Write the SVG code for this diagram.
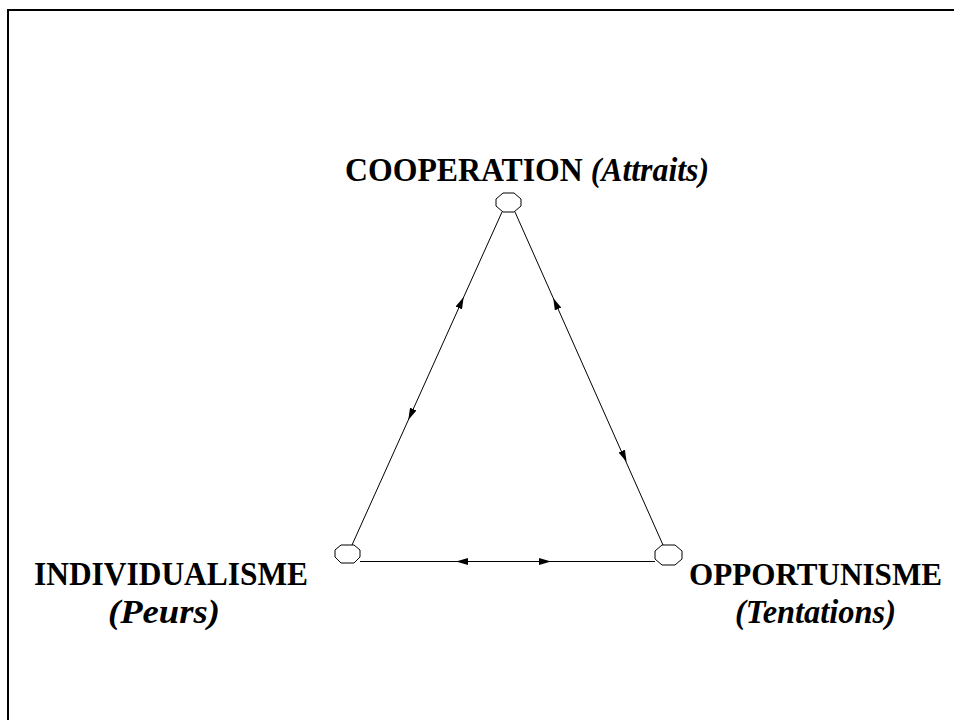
<svg xmlns="http://www.w3.org/2000/svg" width="954" height="720" viewBox="0 0 954 720">
<defs>
<style>
.lbl{font-family:"Liberation Serif","Times New Roman",serif;font-weight:bold;font-size:33px;fill:#000}
.it{font-style:italic}
.sm{font-size:31px}
.node{fill:#fff;stroke:#000;stroke-width:1}
.ln{stroke:#000;stroke-width:1;fill:none}
.ar{stroke:none;fill:none}
</style>
<marker id="ah" viewBox="0 0 12 7" refX="12" refY="3.5" markerWidth="12" markerHeight="7" markerUnits="userSpaceOnUse" orient="auto">
<path d="M0,0 L12,3.5 L0,7 z" fill="#000"/>
</marker>
</defs>
<rect x="8" y="10" width="960" height="720" fill="none" stroke="#000" stroke-width="2"/>
<g id="connectors">
<line class="ln" x1="502" y1="212" x2="352" y2="545"/>
<line class="ln" x1="515" y1="212" x2="663" y2="545"/>
<line class="ln" x1="360" y1="561.5" x2="655" y2="561.5"/>
<line class="ln" x1="458" y1="561.5" x2="550" y2="561.5" stroke-width="1.8"/>
<line class="ar" x1="454.7" y1="317" x2="463.7" y2="297" marker-end="url(#ah)"/>
<line class="ar" x1="417.3" y1="400" x2="408.3" y2="420" marker-end="url(#ah)"/>
<line class="ar" x1="562.1" y1="318" x2="553.2" y2="298" marker-end="url(#ah)"/>
<line class="ar" x1="617.7" y1="442" x2="626.6" y2="462" marker-end="url(#ah)"/>
<line class="ar" x1="480" y1="561.5" x2="456" y2="561.5" marker-end="url(#ah)"/>
<line class="ar" x1="530" y1="561.5" x2="551" y2="561.5" marker-end="url(#ah)"/>
</g>
<g id="cooperation">
<polygon class="node" points="503,193 514,193 521,199 521,206 514,212 503,212 496,206 496,199"/>
<text class="lbl" x="345" y="181" textLength="364" lengthAdjust="spacingAndGlyphs">COOPERATION <tspan class="it">(Attraits)</tspan></text>
</g>
<g id="individualisme">
<polygon class="node" points="341,545 354,545 360,550 360,557 354,563 341,563 335,557 335,550"/>
<text class="lbl" x="34" y="585" textLength="274" lengthAdjust="spacingAndGlyphs">INDIVIDUALISME</text>
<text class="lbl it" x="108" y="623" textLength="112" lengthAdjust="spacingAndGlyphs">(Peurs)</text>
</g>
<g id="opportunisme">
<polygon class="node" points="662,545 675,545 682,551 682,559 675,565 662,565 655,559 655,551"/>
<text class="lbl sm" x="689" y="585" textLength="253" lengthAdjust="spacingAndGlyphs">OPPORTUNISME</text>
<text class="lbl it" x="735" y="623" textLength="161" lengthAdjust="spacingAndGlyphs">(Tentations)</text>
</g>
</svg>
